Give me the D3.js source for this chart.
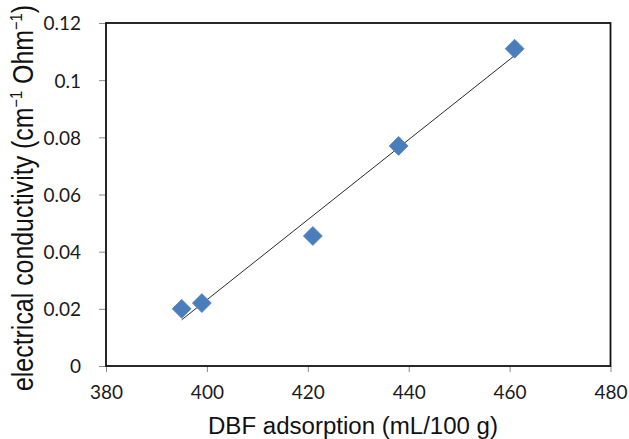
<!DOCTYPE html>
<html><head><meta charset="utf-8">
<script src="https://cdn.jsdelivr.net/npm/d3@7"></script>
<style>
html,body{margin:0;padding:0;background:#fff;}
svg{display:block;}
</style></head>
<body>
<script>
const xValues = [395, 399, 421, 438, 461];
const yValues = [0.020, 0.022, 0.0455, 0.077, 0.111];
const xTicks = [380, 400, 420, 440, 460, 480];
const yTicks = [0, 0.02, 0.04, 0.06, 0.08, 0.1, 0.12];
const yTickLabels = ["0", "0.02", "0.04", "0.06", "0.08", "0.1", "0.12"];
const xTitle = "DBF adsorption (mL/100 g)";

const W = 629, H = 439;
const m = {left: 106, right: 18.5, top: 23, bottom: 73};
const svg = d3.select("body").append("svg").attr("width", W).attr("height", H);

const x = d3.scaleLinear().domain([380, 480]).range([m.left, W - m.right]);
const y = d3.scaleLinear().domain([0, 0.12]).range([H - m.bottom, m.top]);

const tickFont = "Lato, 'Open Sans', sans-serif";

// y axis
const yAx = svg.append("g").attr("transform", `translate(${m.left},0)`)
  .call(d3.axisLeft(y).tickValues(yTicks).tickSize(7).tickPadding(18)
    .tickFormat((d, i) => yTickLabels[i]));
yAx.select(".domain").remove();
yAx.selectAll(".tick line").attr("stroke", "#8a8a8a").attr("stroke-width", 1);
yAx.selectAll(".tick text").attr("font-family", tickFont).attr("font-size", 19)
  .attr("fill", "#1a1a1a").attr("dy", "0.36em");

// x axis
const xAx = svg.append("g").attr("transform", `translate(0,${H - m.bottom})`)
  .call(d3.axisBottom(x).tickValues(xTicks).tickSize(6).tickPadding(14)
    .tickFormat(d3.format("d")));
xAx.select(".domain").remove();
xAx.selectAll(".tick line").attr("stroke", "#8a8a8a").attr("stroke-width", 1);
xAx.selectAll(".tick text").attr("font-family", tickFont).attr("font-size", 19)
  .attr("fill", "#1a1a1a");

// frame
svg.append("rect")
  .attr("x", x(380)).attr("y", y(0.12))
  .attr("width", x(480) - x(380)).attr("height", y(0) - y(0.12))
  .attr("fill", "none").attr("stroke", "#111").attr("stroke-width", 1.8);

// linear trendline (least squares fit of the data)
const mx = d3.mean(xValues), my = d3.mean(yValues);
const sxy = d3.sum(xValues, (v, i) => (v - mx) * (yValues[i] - my));
const sxx = d3.sum(xValues, v => (v - mx) * (v - mx));
const slope = sxy / sxx, icpt = my - slope * mx;
const xe = d3.extent(xValues);
svg.append("line")
  .attr("x1", x(xe[0])).attr("y1", y(icpt + slope * xe[0]))
  .attr("x2", x(xe[1])).attr("y2", y(icpt + slope * xe[1]))
  .attr("stroke", "#2a2a2a").attr("stroke-width", 1);

// points (diamonds)
const half = 9.5;
svg.append("g").selectAll("path").data(xValues).join("path")
  .attr("d", (d, i) => {
    const cx = x(d), cy = y(yValues[i]);
    return `M${cx},${cy - half}L${cx + half},${cy}L${cx},${cy + half}L${cx - half},${cy}Z`;
  })
  .attr("fill", "#4a7ebb").attr("stroke", "#5a8ac4").attr("stroke-width", 0.8);

// x title
svg.append("text")
  .attr("x", 353).attr("y", 433.5)
  .attr("text-anchor", "middle")
  .attr("font-family", "'Liberation Sans', Arial, sans-serif")
  .attr("font-size", 23.5).attr("fill", "#111")
  .attr("textLength", 290).attr("lengthAdjust", "spacingAndGlyphs")
  .text(xTitle);

// y title
const yt = svg.append("text")
  .attr("transform", "translate(33,198) rotate(-90)")
  .attr("text-anchor", "middle")
  .attr("font-family", "'Liberation Sans', Arial, sans-serif")
  .attr("font-size", 29).attr("fill", "#111")
  .attr("textLength", 386).attr("lengthAdjust", "spacingAndGlyphs");
yt.append("tspan").text("electrical conductivity (cm");
yt.append("tspan").attr("font-size", 17).attr("dy", -11).text("\u22121");
yt.append("tspan").attr("dy", 11).text(" Ohm");
yt.append("tspan").attr("font-size", 17).attr("dy", -11).text("\u22121");
yt.append("tspan").attr("dy", 11).text(")");
</script>
</body></html>
